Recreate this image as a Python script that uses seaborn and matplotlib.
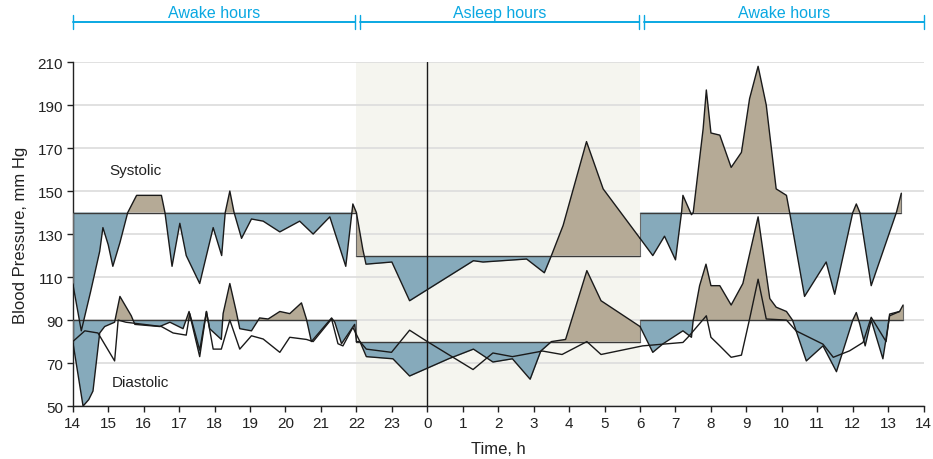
import numpy as np
import pandas as pd
import seaborn as sns
import matplotlib.pyplot as plt

# ---------- datos (t = horas desde las 14:00) ----------
HOUR_LABELS = [14, 15, 16, 17, 18, 19, 20, 21, 22, 23, 0, 1, 2, 3, 4, 5, 6, 7, 8, 9, 10, 11, 12, 13, 14]
PERIODS = ["Awake hours", "Asleep hours", "Awake hours"]
SYS_LIMITS = [140, 120, 140]
DIA_LIMITS = [90, 80, 90]

sys_day1_t = [0.0, 0.24, 0.5, 0.76, 0.85, 1.0, 1.13, 1.33, 1.55, 1.8, 2.5, 2.6, 2.8, 3.02, 3.2,
              3.58, 3.96, 4.2, 4.3, 4.43, 4.55, 4.76, 5.04, 5.37, 5.84, 6.4, 6.78, 7.25, 7.7, 7.9, 8.0]
sys_day1 = [107, 85, 103, 122, 133, 125, 115, 126, 140, 148, 148, 140, 115, 135, 120,
            107, 133, 120, 140, 150, 140, 128, 137, 136, 131, 136, 130, 138, 115, 144, 140]

sys_night_t = [8.0, 8.18, 8.27, 9.0, 9.5, 11.3, 11.57, 12.1, 12.8, 13.3, 13.5, 13.83, 14.49, 14.96, 16.0]
sys_night = [140, 123, 116, 117, 99, 117.6, 117, 117.6, 118.4, 112, 120, 134, 173, 151, 128]

sys_day2_t = [16.0, 16.36, 16.69, 17.0, 17.17, 17.21, 17.45, 17.5, 17.78, 17.87, 18.0, 18.25, 18.57,
              18.86, 19.09, 19.33, 19.56, 19.84, 20.13, 20.22, 20.64, 21.25, 21.49, 22.0, 22.1, 22.2,
              22.52, 23.23, 23.37]
sys_day2 = [128, 120, 129, 118, 140, 148, 139, 140, 179, 197, 177, 176, 161,
            168, 193, 208, 190, 151, 148, 140, 101, 117, 102, 140, 144, 140,
            106, 140, 149]

dia_day1_t = [0.0, 0.29, 0.45, 0.57, 0.76, 0.9, 1.18, 1.33, 1.65, 1.75, 2.45, 2.74, 3.11, 3.28, 3.58,
              3.77, 3.86, 4.19, 4.24, 4.43, 4.61, 4.71, 5.04, 5.27, 5.51, 5.84, 6.12, 6.45, 6.59,
              6.73, 7.3, 7.39, 7.58, 7.95, 8.0]
dia_day1 = [80, 50, 53, 57, 84, 87, 89, 101, 92, 88, 87, 89, 86, 94, 73,
            94, 86, 81, 93, 107, 94, 86, 85, 91, 90.5, 94, 93, 98, 90.5,
            80, 91, 89, 79, 88, 80]

dia_night_t = [8.0, 8.1, 8.28, 9.03, 9.5, 10.6, 11.3, 11.85, 12.4, 12.9, 13.2, 13.5, 13.9, 14.5, 14.9, 16.0]
dia_night = [80, 80, 73, 72, 64, 72, 76.5, 70.5, 72, 62.5, 75.6, 80, 81, 113, 99, 87]

dia_day2_t = [16.0, 16.36, 16.65, 17.21, 17.45, 17.5, 17.68, 17.86, 18.0, 18.25, 18.57, 18.9, 19.33,
              19.66, 19.84, 20.13, 20.3, 20.69, 21.16, 21.54, 22.0, 22.1, 22.2, 22.35, 22.52, 22.85,
              23.04, 23.32, 23.42]
dia_day2 = [87, 75, 79, 85, 82, 90, 106, 116, 106, 106, 97, 107, 138,
            100, 96, 94, 90, 71, 78, 66, 90, 93.5, 88, 78, 90, 72,
            92, 94, 97]

# segunda curva diastólica (línea fina)
ext_t = [0.0, 0.34, 0.71, 1.18, 1.28, 1.5, 2.0, 2.5, 2.83, 3.2, 3.3, 3.58, 3.77, 3.96, 4.19, 4.43,
         4.71, 5.04, 5.37, 5.84, 6.12, 6.59, 6.78, 7.3, 7.48, 7.62, 7.9, 8.1, 8.28, 8.99, 9.5, 10.0,
         11.29, 11.85, 12.4, 13.25, 13.8, 14.5, 14.9, 16.07, 17.21, 17.35, 17.87, 18.0, 18.25, 18.57,
         18.86, 19.09, 19.33, 19.56, 20.13, 20.4, 21.16, 21.45, 21.91, 22.29, 22.52, 22.94, 23.04, 23.32]
ext_v = [80, 85, 84, 71, 90, 89, 88, 87, 84, 83, 93, 76, 94, 76.5, 76.5, 90,
         76.5, 82.7, 81.2, 75, 82, 81, 80, 90.5, 79, 78, 86.6, 80, 76.5, 75, 85.3, 80,
         67, 74.7, 73, 75.6, 74, 80, 74, 78, 79.6, 82, 92, 82, 78, 72.7,
         73.7, 90.5, 109, 90.5, 90, 85, 78.8, 72.7, 75.7, 79.6, 91.3, 80, 92.8, 94]

# ---------- estilo ----------
BLUE = "#86aabb"
TAN = "#b5aa96"
CYAN = "#0aa8e2"
INK = "#222222"
sns.set_theme(style="white")
plt.rcParams['font.family'] = ['Liberation Sans', 'DejaVu Sans']

fig = plt.figure(figsize=(9.33, 4.6), dpi=100)
ax = fig.add_axes([0.078, 0.115, 0.912, 0.748])

ax.axvspan(8, 16, color="#f5f5ef", zorder=0, lw=0)
ax.set_axisbelow(True)
ax.yaxis.grid(True, color="#dcdcdc", lw=1.2)

sys_segs = [(sys_day1_t, sys_day1), (sys_night_t, sys_night), (sys_day2_t, sys_day2)]
dia_segs = [(dia_day1_t, dia_day1), (dia_night_t, dia_night), (dia_day2_t, dia_day2)]

for segs, limits in [(sys_segs, SYS_LIMITS), (dia_segs, DIA_LIMITS)]:
    for (t, v), thr in zip(segs, limits):
        t = np.array(t)
        v = np.array(v, dtype=float)
        ax.fill_between(t, v, thr, where=v >= thr, interpolate=True, color=TAN, lw=0, zorder=2)
        ax.fill_between(t, v, thr, where=v <= thr, interpolate=True, color=BLUE, lw=0, zorder=2)
        ax.plot([t[0], t[-1]], [thr, thr], color="#3a3a3a", lw=1.0, zorder=3)
        ax.vlines([t[0], t[-1]], [min(thr, v[0]), min(thr, v[-1])], [max(thr, v[0]), max(thr, v[-1])],
                  color="#6a6a6a", lw=0.8, zorder=3)
        df = pd.DataFrame({"t": t, "v": v})
        sns.lineplot(data=df, x="t", y="v", ax=ax, color="#1a1a1a", lw=1.0,
                     estimator=None, sort=False, zorder=4)

ext = pd.DataFrame({"t": ext_t, "v": ext_v})
sns.lineplot(data=ext, x="t", y="v", ax=ax, color="#1a1a1a", lw=1.0,
             estimator=None, sort=False, zorder=4)

ax.axvline(10, color="#1a1a1a", lw=1.0, zorder=3)

ax.text(1.04, 160, "Systolic", fontsize=11, va="center", color=INK)
ax.text(1.1, 61, "Diastolic", fontsize=11, va="center", color=INK)

# ---------- ejes ----------
ax.set_xlim(0, 24)
ax.set_ylim(50, 210)
ax.set_xticks(range(25))
ax.set_xticklabels([str(h) for h in HOUR_LABELS])
ax.set_yticks(range(50, 211, 20))
ax.tick_params(axis="both", direction="out", length=4, width=1, color=INK,
               labelsize=11, labelcolor=INK, bottom=True, left=True, pad=3)
for side in ["top", "right"]:
    ax.spines[side].set_visible(False)
for side in ["left", "bottom"]:
    ax.spines[side].set_color(INK)
    ax.spines[side].set_linewidth(1.0)
ax.set_xlabel("Time, h", fontsize=12, color=INK, labelpad=8)
ax.set_ylabel("Blood Pressure, mm Hg", fontsize=12, color=INK, labelpad=7)

# ---------- periodos arriba ----------
xt = ax.get_xaxis_transform()
bracket_spans = [(0.0, 7.96), (8.1, 15.96), (16.1, 24.0)]
for (a, b), name in zip(bracket_spans, PERIODS):
    ax.plot([a, b], [1.116, 1.116], transform=xt, color=CYAN, lw=1.4, clip_on=False)
    for x in (a, b):
        ax.plot([x, x], [1.096, 1.136], transform=xt, color=CYAN, lw=1.0, clip_on=False)
    ax.text((a + b) / 2, 1.143, name, transform=xt, ha="center", va="center",
            color=CYAN, fontsize=11.5)

fig.savefig("out.png", dpi=100)
